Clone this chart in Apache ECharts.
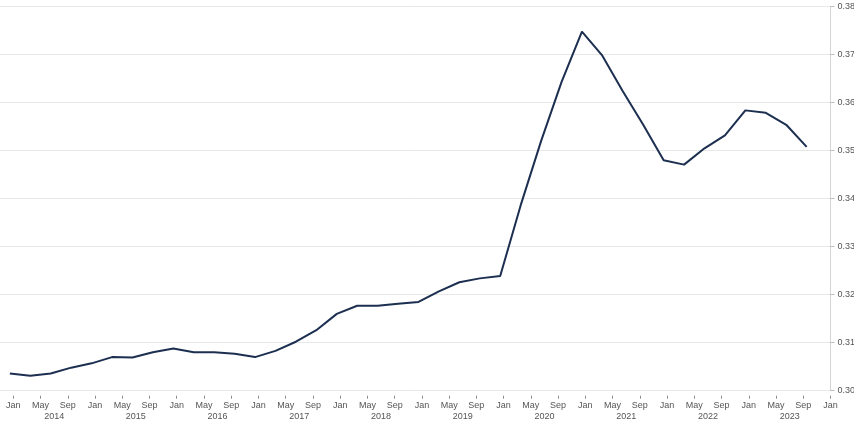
<!DOCTYPE html>
<html>
<head>
<meta charset="utf-8">
<script src="https://cdn.jsdelivr.net/npm/echarts@6/dist/echarts.min.js"></script>
<style>
html,body{margin:0;padding:0;background:#fff;}
#chart{width:854px;height:422px;}
</style>
</head>
<body>
<div id="chart"></div>
<script>
// Quarterly observations (year, month)
var periods = [
  '2013-12','2014-03','2014-06','2014-09','2014-12','2015-03','2015-06','2015-09',
  '2015-12','2016-03','2016-06','2016-09','2016-12','2017-03','2017-06','2017-09',
  '2017-12','2018-03','2018-06','2018-09','2018-12','2019-03','2019-06','2019-09',
  '2019-12','2020-03','2020-06','2020-09','2020-12','2021-03','2021-06','2021-09',
  '2021-12','2022-03','2022-06','2022-09','2022-12','2023-03','2023-06','2023-09'
];
var values = [
  0.3036,0.3031,0.3036,0.3048,0.3057,0.3070,0.3069,0.3080,
  0.3088,0.3080,0.3080,0.3077,0.3070,0.3083,0.3102,0.3126,
  0.3160,0.3177,0.3177,0.3181,0.3185,0.3207,0.3226,0.3234,
  0.3239,0.3386,0.3520,0.3643,0.3748,0.3698,0.3624,0.3554,
  0.3480,0.3471,0.3505,0.3532,0.3584,0.3579,0.3554,0.3508
];
var monthTickLabels = ['Jan','May','Sep'];
var yearLabels = ['2014','2015','2016','2017','2018','2019','2020','2021','2022','2023'];
var baseYear = 2014;

// months since Jan 2014 (mid-month)
function toMonthIndex(p){
  var y = parseInt(p.slice(0,4),10), m = parseInt(p.slice(5,7),10);
  return (y - baseYear) * 12 + (m - 1) + 0.5;
}
var seriesData = periods.map(function(p,i){ return [toMonthIndex(p), values[i]]; });

var monthTicks = [];
for (var t = 0; t <= yearLabels.length * 12; t += 4) monthTicks.push(t);
var yearTicks = yearLabels.map(function(y,i){ return i * 12 + 6; });

var font = 'Arial, "Liberation Sans", sans-serif';
var chart = echarts.init(document.getElementById('chart'));
chart.setOption({
  animation: false,
  backgroundColor: '#fff',
  grid: { left: 0, right: 23.5, top: 6.7, bottom: 31.3, containLabel: false, outerBoundsMode: 'none' },
  xAxis: [{
    type: 'value', min: -1.95, max: 120, position: 'bottom', offset: 5,
    axisLine: { show: false, onZero: false },
    axisTick: { show: true, length: 3, customValues: monthTicks, lineStyle: { color: '#8c8c8c' } },
    axisLabel: {
      customValues: monthTicks, margin: 5, fontSize: 9, fontFamily: font, color: '#555',
      formatter: function(v){ return monthTickLabels[Math.round(v) % 12 / 4]; }
    },
    splitLine: { show: false }
  }, {
    type: 'value', min: -1.95, max: 120, position: 'bottom', offset: 16,
    axisLine: { show: false, onZero: false },
    axisTick: { show: false },
    axisLabel: {
      customValues: yearTicks, margin: 5, fontSize: 9, fontFamily: font, color: '#555',
      formatter: function(v){ return yearLabels[Math.round((v - 6) / 12)]; }
    },
    splitLine: { show: false }
  }],
  yAxis: {
    type: 'value', position: 'right', min: 0.30, max: 0.38, interval: 0.01,
    axisLine: { show: true, onZero: false, lineStyle: { color: '#d4d4d4' } },
    axisTick: { show: true, length: 4, lineStyle: { color: '#bdbdbd' } },
    axisLabel: { margin: 7, fontSize: 9, fontFamily: font, color: '#555',
      formatter: function(v){ return v.toFixed(2); } },
    splitLine: { show: true, lineStyle: { color: '#e8e8e8', width: 1 } }
  },
  series: [{
    type: 'line', data: seriesData, showSymbol: false, symbol: 'none',
    lineStyle: { color: '#1c2f50', width: 2 }, clip: false
  }]
});
</script>
</body>
</html>
